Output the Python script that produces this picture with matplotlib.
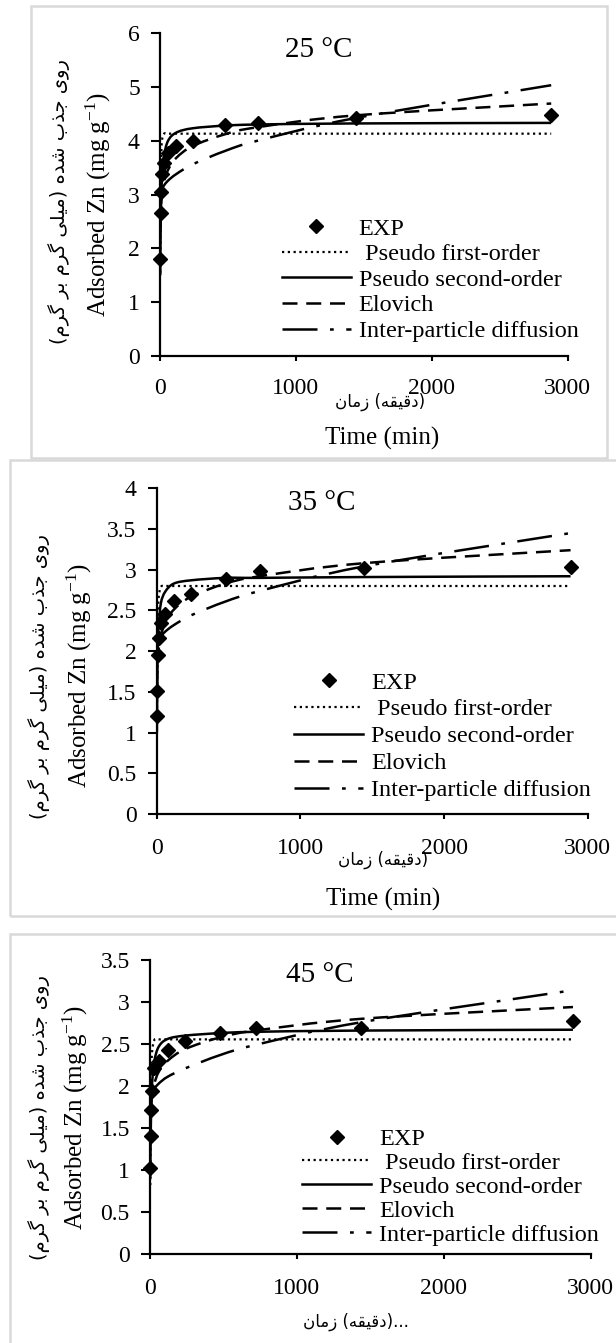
import numpy as np
import matplotlib
matplotlib.use("Agg")
import matplotlib.pyplot as plt
from matplotlib import font_manager, ft2font
from matplotlib.path import Path
from matplotlib.patches import PathPatch, Rectangle
from matplotlib.lines import Line2D

# time points (min)
t_min = [2, 5, 10, 15, 30, 60, 120, 240, 480, 720, 1440, 2880]

# 25 C
exp_25 = [1.80, 2.65, 3.05, 3.38, 3.58, 3.78, 3.90, 4.00, 4.30, 4.33, 4.42, 4.47]
pfo_25 = [1.55, 2.85, 3.76, 4.01, 4.13, 4.13, 4.13, 4.13, 4.13, 4.13, 4.13, 4.13]
pso_25 = [1.50, 2.40, 3.00, 3.30, 3.72, 4.00, 4.15, 4.23, 4.28, 4.30, 4.32, 4.33]
elo_25 = [2.39, 2.68, 2.89, 3.02, 3.24, 3.46, 3.68, 3.90, 4.12, 4.25, 4.47, 4.69]
ipd_25 = [3.01, 3.05, 3.08, 3.11, 3.17, 3.26, 3.38, 3.56, 3.81, 4.00, 4.42, 5.03]

# 35 C
exp_35 = [1.20, 1.51, 1.95, 2.16, 2.34, 2.46, 2.61, 2.70, 2.89, 2.98, 3.02, 3.03]
pfo_35 = [0.95, 1.81, 2.45, 2.67, 2.79, 2.80, 2.80, 2.80, 2.80, 2.80, 2.80, 2.80]
pso_35 = [1.00, 1.65, 2.11, 2.32, 2.59, 2.73, 2.83, 2.87, 2.90, 2.90, 2.91, 2.92]
elo_35 = [1.57, 1.78, 1.94, 2.03, 2.19, 2.35, 2.51, 2.67, 2.83, 2.92, 3.08, 3.24]
ipd_35 = [2.07, 2.09, 2.11, 2.13, 2.18, 2.24, 2.32, 2.44, 2.61, 2.74, 3.04, 3.45]

# 45 C
exp_45 = [1.02, 1.40, 1.71, 1.94, 2.21, 2.30, 2.43, 2.53, 2.63, 2.69, 2.69, 2.77]
pfo_45 = [0.82, 1.59, 2.19, 2.42, 2.55, 2.555, 2.555, 2.555, 2.555, 2.555, 2.555, 2.555]
pso_45 = [0.90, 1.45, 1.86, 2.05, 2.30, 2.47, 2.56, 2.60, 2.63, 2.645, 2.66, 2.67]
elo_45 = [1.49, 1.67, 1.81, 1.89, 2.03, 2.17, 2.30, 2.44, 2.58, 2.66, 2.80, 2.94]
ipd_45 = [1.87, 1.89, 1.92, 1.93, 1.97, 2.03, 2.11, 2.21, 2.37, 2.49, 2.76, 3.14]

titles = ["25 °C", "35 °C", "45 °C"]
series_names = ["EXP", " Pseudo first-order", "Pseudo second-order", "Elovich", "Inter-particle diffusion"]
x_ticks = [0, 1000, 2000, 3000]

# Persian letters -> (isolated, final, initial, medial) presentation forms
ARABIC_FORMS = {
    "ا": (0xFE8D, 0xFE8E, None, None),
    "ب": (0xFE8F, 0xFE90, 0xFE91, 0xFE92),
    "ج": (0xFE9D, 0xFE9E, 0xFE9F, 0xFEA0),
    "د": (0xFEA9, 0xFEAA, None, None),
    "ذ": (0xFEAB, 0xFEAC, None, None),
    "ر": (0xFEAD, 0xFEAE, None, None),
    "ز": (0xFEAF, 0xFEB0, None, None),
    "ش": (0xFEB5, 0xFEB6, 0xFEB7, 0xFEB8),
    "ق": (0xFED5, 0xFED6, 0xFED7, 0xFED8),
    "ل": (0xFEDD, 0xFEDE, 0xFEDF, 0xFEE0),
    "م": (0xFEE1, 0xFEE2, 0xFEE3, 0xFEE4),
    "ن": (0xFEE5, 0xFEE6, 0xFEE7, 0xFEE8),
    "ه": (0xFEE9, 0xFEEA, 0xFEEB, 0xFEEC),
    "و": (0xFEED, 0xFEEE, None, None),
    "ی": (0xFBFC, 0xFBFD, 0xFBFE, 0xFBFF),
    "گ": (0xFB92, 0xFB93, 0xFB94, 0xFB95),
}
FALLBACK = {0xFBFC: 0xFEEF, 0xFBFD: 0xFEF0, 0xFBFE: 0xFEF3, 0xFBFF: 0xFEF4,
            0xFB92: 0xFED9, 0xFB93: 0xFEDA, 0xFB94: 0xFEDB, 0xFB95: 0xFEDC}

FA_FONT = "DejaVu Sans"
try:
    _cmap = ft2font.FT2Font(font_manager.findfont(font_manager.FontProperties(family=FA_FONT))).get_charmap()
except Exception:
    _cmap = {}


def shape_word(word):
    """Join letters with presentation forms, return in visual (LTR) order."""
    out = []
    for i, ch in enumerate(word):
        iso, fin, ini, med = ARABIC_FORMS[ch]
        joins_prev = i > 0 and ARABIC_FORMS[word[i - 1]][2] is not None
        joins_next = i + 1 < len(word) and ini is not None
        if joins_prev and joins_next:
            cp = med
        elif joins_prev:
            cp = fin
        elif joins_next:
            cp = ini
        else:
            cp = iso
        if _cmap and cp not in _cmap:
            cp = FALLBACK.get(cp, cp)
        out.append(chr(cp))
    return "".join(reversed(out))


ylabel_fa = ("(" + shape_word("گرم") + " " + shape_word("بر") + " " + shape_word("گرم") + " "
             + shape_word("میلی") + ") " + shape_word("شده") + " " + shape_word("جذب") + " "
             + shape_word("روی"))
xlabel_fa = shape_word("زمان") + " (" + shape_word("دقیقه") + ")"

plt.rcParams["font.family"] = ["Liberation Serif", "DejaVu Sans"]
plt.rcParams["mathtext.fontset"] = "custom"
plt.rcParams["mathtext.rm"] = "Liberation Serif"
plt.rcParams["mathtext.it"] = "Liberation Serif:italic"

W, H = 616, 1343
fig = plt.figure(figsize=(W / 100, H / 100), dpi=100)


def fx(px):
    return px / W


def fy(py):
    return 1 - py / H


def smooth_path(x, y):
    # Excel-like smoothed line (Catmull-Rom as cubic Bezier)
    pts = np.column_stack([x, y]).astype(float)
    n = len(pts)
    verts = [pts[0]]
    codes = [Path.MOVETO]
    for i in range(n - 1):
        p0 = pts[i - 1] if i > 0 else pts[i]
        p1, p2 = pts[i], pts[i + 1]
        p3 = pts[i + 2] if i + 2 < n else pts[i + 1]
        verts += [p1 + (p2 - p0) / 6, p2 - (p3 - p1) / 6, p2]
        codes += [Path.CURVE4] * 3
    return Path(verts, codes)


styles = [
    dict(ls=(0, (1, 1.6)), lw=1.6),
    dict(ls="-", lw=1.8),
    dict(ls=(0, (6, 3.5)), lw=1.8),
    dict(ls=(0, (14, 5, 1.5, 5)), lw=1.8),
]

panels = [
    dict(exp=exp_25, models=[pfo_25, pso_25, elo_25, ipd_25], ymax=6, ystep=1,
         ax=(160, 567.5, 33, 356), frame=(31, 6, 607, 457.5),
         title=(319, 50), leg=(281.5, 217.5, 0.15),
         ylab=(98, 204), ylab_fa=(59, 202), xlab_fa=(380, 402), time=(382, 438)),
    dict(exp=exp_35, models=[pfo_35, pso_35, elo_35, ipd_35], ymax=4, ystep=0.5,
         ax=(156.6, 587.8, 488.3, 814), frame=(9.5, 459.5, 625, 915.5),
         title=(321.5, 503), leg=(294, 671.5, 0.2),
         ylab=(79, 675), ylab_fa=(39.5, 677), xlab_fa=(383, 860), time=(383, 899)),
    dict(exp=exp_45, models=[pfo_45, pso_45, elo_45, ipd_45], ymax=3.5, ystep=0.5,
         ax=(150, 590.6, 960, 1254), frame=(9.5, 934, 625, 1360),
         title=(319.5, 975), leg=(302, 1128, 0.08),
         ylab=(75, 1117), ylab_fa=(39.5, 1118), xlab_fa=(356, 1322), time=None),
]

for k, p in enumerate(panels):
    fl, ft, fr, fb = p["frame"]
    fig.add_artist(Rectangle((fx(fl), fy(fb)), fx(fr - fl), (fb - ft) / H,
                             transform=fig.transFigure, fill=False,
                             edgecolor="#d9d9d9", lw=1.8))

    x0, x1, yt, yb = p["ax"]
    ax = fig.add_axes([fx(x0), fy(yb), fx(x1 - x0), (yb - yt) / H])
    ax.set_xlim(0, 3000)
    ax.set_ylim(0, p["ymax"])

    for vals, st in zip(p["models"], styles):
        patch = PathPatch(smooth_path(t_min, vals), fill=False, edgecolor="black",
                          lw=st["lw"], linestyle=st["ls"], capstyle="butt")
        ax.add_patch(patch)
    ax.plot(t_min, p["exp"], ls="none", marker="D", ms=7.5, color="black",
            clip_on=False, zorder=5)

    ax.set_xticks(x_ticks)
    yt_vals = np.arange(0, p["ymax"] + 1e-9, p["ystep"])
    ax.set_yticks(yt_vals)
    ax.set_yticklabels(["%g" % v for v in yt_vals])
    for s in ["top", "right"]:
        ax.spines[s].set_visible(False)
    for s in ["left", "bottom"]:
        ax.spines[s].set_linewidth(1.6)
    ax.tick_params(axis="y", direction="out", length=6.5, width=1.5, labelsize=17, pad=8)
    ax.tick_params(axis="x", direction="out", length=3.5, width=1.5, labelsize=17,
                   pad=12 if k == 0 else 13.5)

    handles = [Line2D([], [], ls="none", marker="D", ms=7.5, color="black")]
    for st in styles:
        handles.append(Line2D([], [], color="black", lw=st["lw"], ls=st["ls"]))
    lx, ly, lsp = p["leg"]
    ax.legend(handles, series_names, loc="upper left",
              bbox_to_anchor=(fx(lx), fy(ly)), bbox_transform=fig.transFigure,
              frameon=False, borderpad=0, borderaxespad=0, fontsize=17.5,
              handlelength=2.84, handletextpad=0.33, labelspacing=lsp, numpoints=1)

    fig.text(fx(p["title"][0]), fy(p["title"][1]), titles[k], fontsize=21,
             ha="center", va="center")
    fig.text(fx(p["ylab"][0]), fy(p["ylab"][1]), "Adsorbed Zn (mg g$^{\\mathregular{-1}}$)",
             fontsize=18, rotation=90, ha="center", va="center")
    fig.text(fx(p["ylab_fa"][0]), fy(p["ylab_fa"][1]), ylabel_fa, family=FA_FONT,
             fontsize=14, rotation=90, ha="center", va="center")
    xfa = xlabel_fa + ("..." if p["time"] is None else "")
    fig.text(fx(p["xlab_fa"][0]), fy(p["xlab_fa"][1]), xfa, family=FA_FONT,
             fontsize=12, ha="center", va="center")
    if p["time"] is not None:
        fig.text(fx(p["time"][0]), fy(p["time"][1]), "Time (min)", fontsize=18,
                 ha="center", va="center")

fig.savefig("out.png", dpi=100)
